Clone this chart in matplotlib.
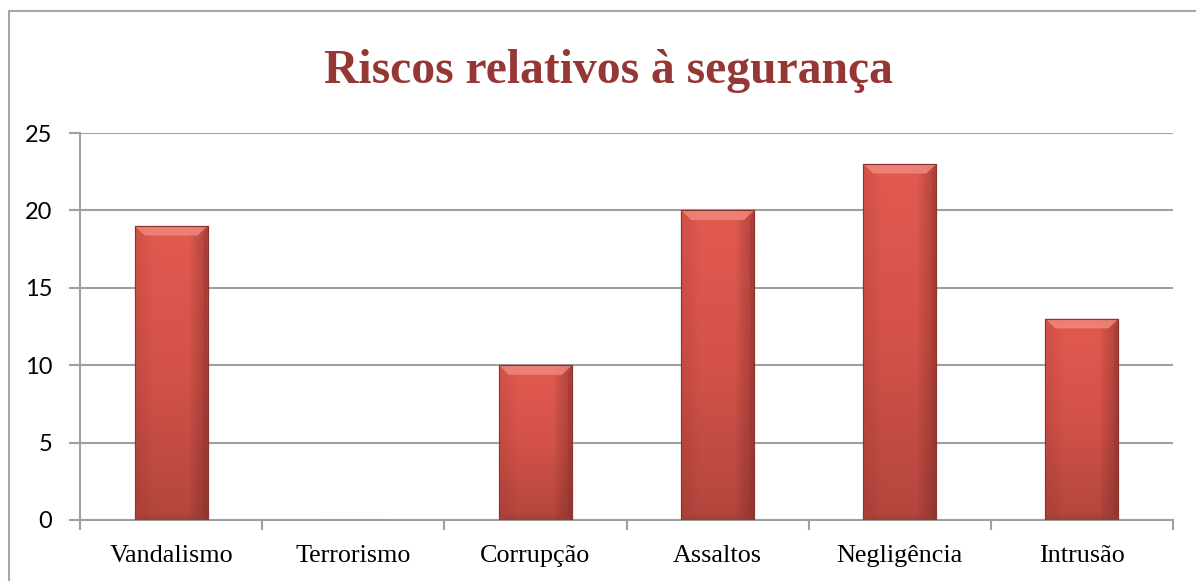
import numpy as np
import matplotlib.pyplot as plt
import matplotlib.patches as patches
from matplotlib.colors import LinearSegmentedColormap

categories = ['Vandalismo', 'Terrorismo', 'Corrupção', 'Assaltos', 'Negligência', 'Intrusão']
values = [19, 0, 10, 20, 23, 13]
y_ticks = [0, 5, 10, 15, 20, 25]

title = 'Riscos relativos à segurança'

fig = plt.figure(figsize=(11.96, 5.81), dpi=100)
fig.patches.append(patches.Rectangle((9 / 1196, -0.1), 1.2, 1 - 11 / 581 + 0.1,
                                     transform=fig.transFigure, fill=False,
                                     edgecolor='#a6a6a6', linewidth=1.5))

ax = fig.add_axes([80 / 1196, 61 / 581, (1173 - 80) / 1196, (520 - 133) / 581])

x = np.arange(len(categories))
bar_w = 0.4
bars = ax.bar(x, values, width=bar_w, color='#d4544b', edgecolor='#9c3a33',
              linewidth=0.8, zorder=3)

# vertical gradient + soft edge shading on each bar
grad = LinearSegmentedColormap.from_list('g', ['#b3463e', '#d35249', '#e25a50'])
shade = LinearSegmentedColormap.from_list(
    's', [(0.4, 0.1, 0.08, 0.12), (0, 0, 0, 0), (0, 0, 0, 0), (0, 0, 0, 0), (0.35, 0.1, 0.08, 0.3)])
for b, v in zip(bars, values):
    if v <= 0:
        continue
    x0 = b.get_x()
    x1 = x0 + b.get_width()
    img = np.linspace(0, 1, 100).reshape(-1, 1)
    im = ax.imshow(img, cmap=grad, origin='lower', aspect='auto',
                   extent=(x0, x1, 0, v), zorder=3.1)
    im.set_clip_path(b)
    side = np.linspace(0, 1, 60).reshape(1, -1)
    im2 = ax.imshow(side, cmap=shade, aspect='auto', extent=(x0, x1, 0, v), zorder=3.2)
    im2.set_clip_path(b)
    # bevel at top and bottom
    bev = 0.62
    dx = 0.055
    ax.add_patch(patches.Polygon([(x0, v), (x1, v), (x1 - dx, v - bev), (x0 + dx, v - bev)],
                                 closed=True, facecolor='#f0877c', edgecolor='none',
                                 alpha=0.85, zorder=3.3))
    ax.add_patch(patches.Polygon([(x1, v), (x1, 0), (x1 - dx * 0.4, bev * 0.3), (x1 - dx * 0.4, v - bev)],
                                 closed=True, facecolor='#8c332d', edgecolor='none',
                                 alpha=0.35, zorder=3.3))
    ax.add_patch(patches.Polygon([(x0, 0), (x1, 0), (x1 - dx, bev * 0.5), (x0 + dx, bev * 0.5)],
                                 closed=True, facecolor='#9c3a33', edgecolor='none',
                                 alpha=0.45, zorder=3.3))
    ax.add_patch(patches.Rectangle((x0, 0), b.get_width(), v, fill=False,
                                   edgecolor='#8c332d', linewidth=0.8, zorder=3.4))

ax.set_xlim(-0.5, len(categories) - 0.5)
ax.set_ylim(0, 25)
ax.set_yticks(y_ticks)
ax.set_yticklabels([str(t) for t in y_ticks], fontsize=17, family='Lato')
ax.set_xticks(x)
ax.set_xticklabels(categories, fontsize=18.8, family='Liberation Serif')
ax.set_xticks(np.arange(-0.5, len(categories)), minor=True)
ax.tick_params(axis='x', which='major', length=0, pad=18)
ax.tick_params(axis='x', which='minor', length=7, width=1.5, color='#a0a0a0')
ax.tick_params(axis='y', length=8, width=1.5, color='#a0a0a0', pad=12)

ax.grid(axis='y', color='#a0a0a0', linewidth=1.5, zorder=0)
ax.set_axisbelow(True)
for s in ['top', 'right']:
    ax.spines[s].set_visible(False)
for s in ['left', 'bottom']:
    ax.spines[s].set_color('#a0a0a0')
    ax.spines[s].set_linewidth(1.5)

fig.text(608 / 1196, 1 - 71 / 581, title, ha='center', va='center',
         fontsize=34.3, fontweight='bold', family='Liberation Serif', color='#953735')

fig.savefig('out.png', dpi=100)
